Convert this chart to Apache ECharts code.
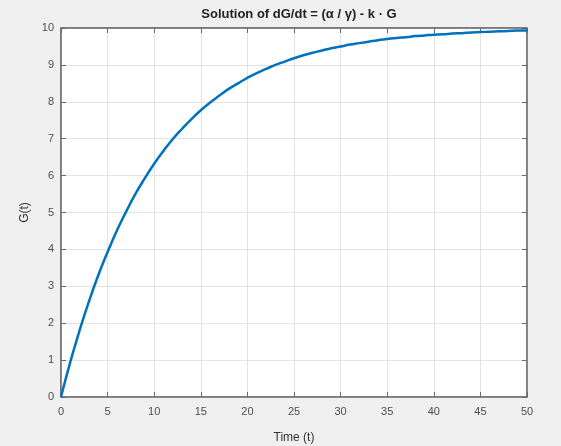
<!DOCTYPE html>
<html>
<head>
<meta charset="utf-8">
<script src="https://cdn.jsdelivr.net/npm/echarts@6/dist/echarts.min.js"></script>
<style>
  html, body { margin: 0; padding: 0; background: #f0f0f0; }
  #chart { width: 561px; height: 446px; }
</style>
</head>
<body>
<div id="chart"></div>
<script>
// values, one per unit of time
var times = [];
for (var i = 0; i <= 50; i++) times.push(i);
var gValues = [
  0, 0.95, 1.81, 2.59, 3.30, 3.93, 4.51, 5.03, 5.51, 5.93,
  6.32, 6.67, 6.99, 7.27, 7.53, 7.77, 7.98, 8.17, 8.35, 8.50,
  8.65, 8.78, 8.89, 9.00, 9.09, 9.18, 9.26, 9.33, 9.39, 9.45,
  9.50, 9.55, 9.59, 9.63, 9.67, 9.70, 9.73, 9.75, 9.78, 9.80,
  9.82, 9.83, 9.85, 9.86, 9.88, 9.89, 9.90, 9.91, 9.92, 9.93,
  9.93
];
var xTicks = [0, 5, 10, 15, 20, 25, 30, 35, 40, 45, 50];
var yTicks = [0, 1, 2, 3, 4, 5, 6, 7, 8, 9, 10];

var points = times.map(function (t, i) { return [t, gValues[i]]; });

var chart = echarts.init(document.getElementById("chart"));
var axisColor = "#6a6a6a";
var font = "Liberation Sans, Arial, sans-serif";

// top / right box edges with inward ticks like matlab
function boxAxis(pos, min, max, step) {
  return {
    type: "value", position: pos,
    min: min, max: max, interval: step,
    axisLine: { show: true, onZero: false, lineStyle: { color: axisColor, width: 1.5 } },
    axisTick: { show: true, inside: true, length: 5, lineStyle: { color: axisColor } },
    axisLabel: { show: false },
    splitLine: { show: false }
  };
}

var option = {
  backgroundColor: "#f0f0f0",
  animation: false,
  title: {
    text: "Solution of dG/dt = (\u03b1 / \u03b3) - k \u00b7 G",
    left: 294,
    textAlign: "center",
    top: 3,
    textStyle: { fontSize: 13, fontWeight: "bold", color: "#222", fontFamily: font }
  },
  grid: {
    left: 61, right: 34, top: 28, bottom: 49,
    containLabel: false,
    outerBoundsMode: "none",
    show: true,
    backgroundColor: "#ffffff",
    borderColor: axisColor,
    borderWidth: 1
  },
  xAxis: [
    {
      type: "value", position: "bottom",
      min: 0, max: 50, interval: 5,
      name: "Time (t)",
      nameLocation: "middle",
      nameGap: 35,
      nameTextStyle: { color: "#333", fontSize: 12, fontFamily: font },
      axisLine: { show: true, onZero: false, lineStyle: { color: axisColor, width: 1.5 } },
      axisTick: { show: true, inside: true, length: 5, lineStyle: { color: axisColor } },
      axisLabel: { margin: 9, color: "#4d4d4d", fontSize: 11, fontFamily: font },
      splitLine: { show: true, lineStyle: { color: "#e3e3e3", width: 1 } }
    },
    boxAxis("top", 0, 50, 5)
  ],
  yAxis: [
    {
      type: "value", position: "left",
      min: 0, max: 10, interval: 1,
      name: "G(t)",
      nameLocation: "middle",
      nameGap: 29,
      nameTextStyle: { color: "#333", fontSize: 12, fontFamily: font },
      axisLine: { show: true, onZero: false, lineStyle: { color: axisColor, width: 1.5 } },
      axisTick: { show: true, inside: true, length: 5, lineStyle: { color: axisColor } },
      axisLabel: { margin: 7, color: "#4d4d4d", fontSize: 11, fontFamily: font },
      splitLine: { show: true, lineStyle: { color: "#e3e3e3", width: 1 } }
    },
    boxAxis("right", 0, 10, 1)
  ],
  series: [
    {
      type: "line",
      data: points,
      showSymbol: false,
      smooth: true,
      lineStyle: { color: "#0072bd", width: 2.5 }
    }
  ]
};
chart.setOption(option);
</script>
</body>
</html>
